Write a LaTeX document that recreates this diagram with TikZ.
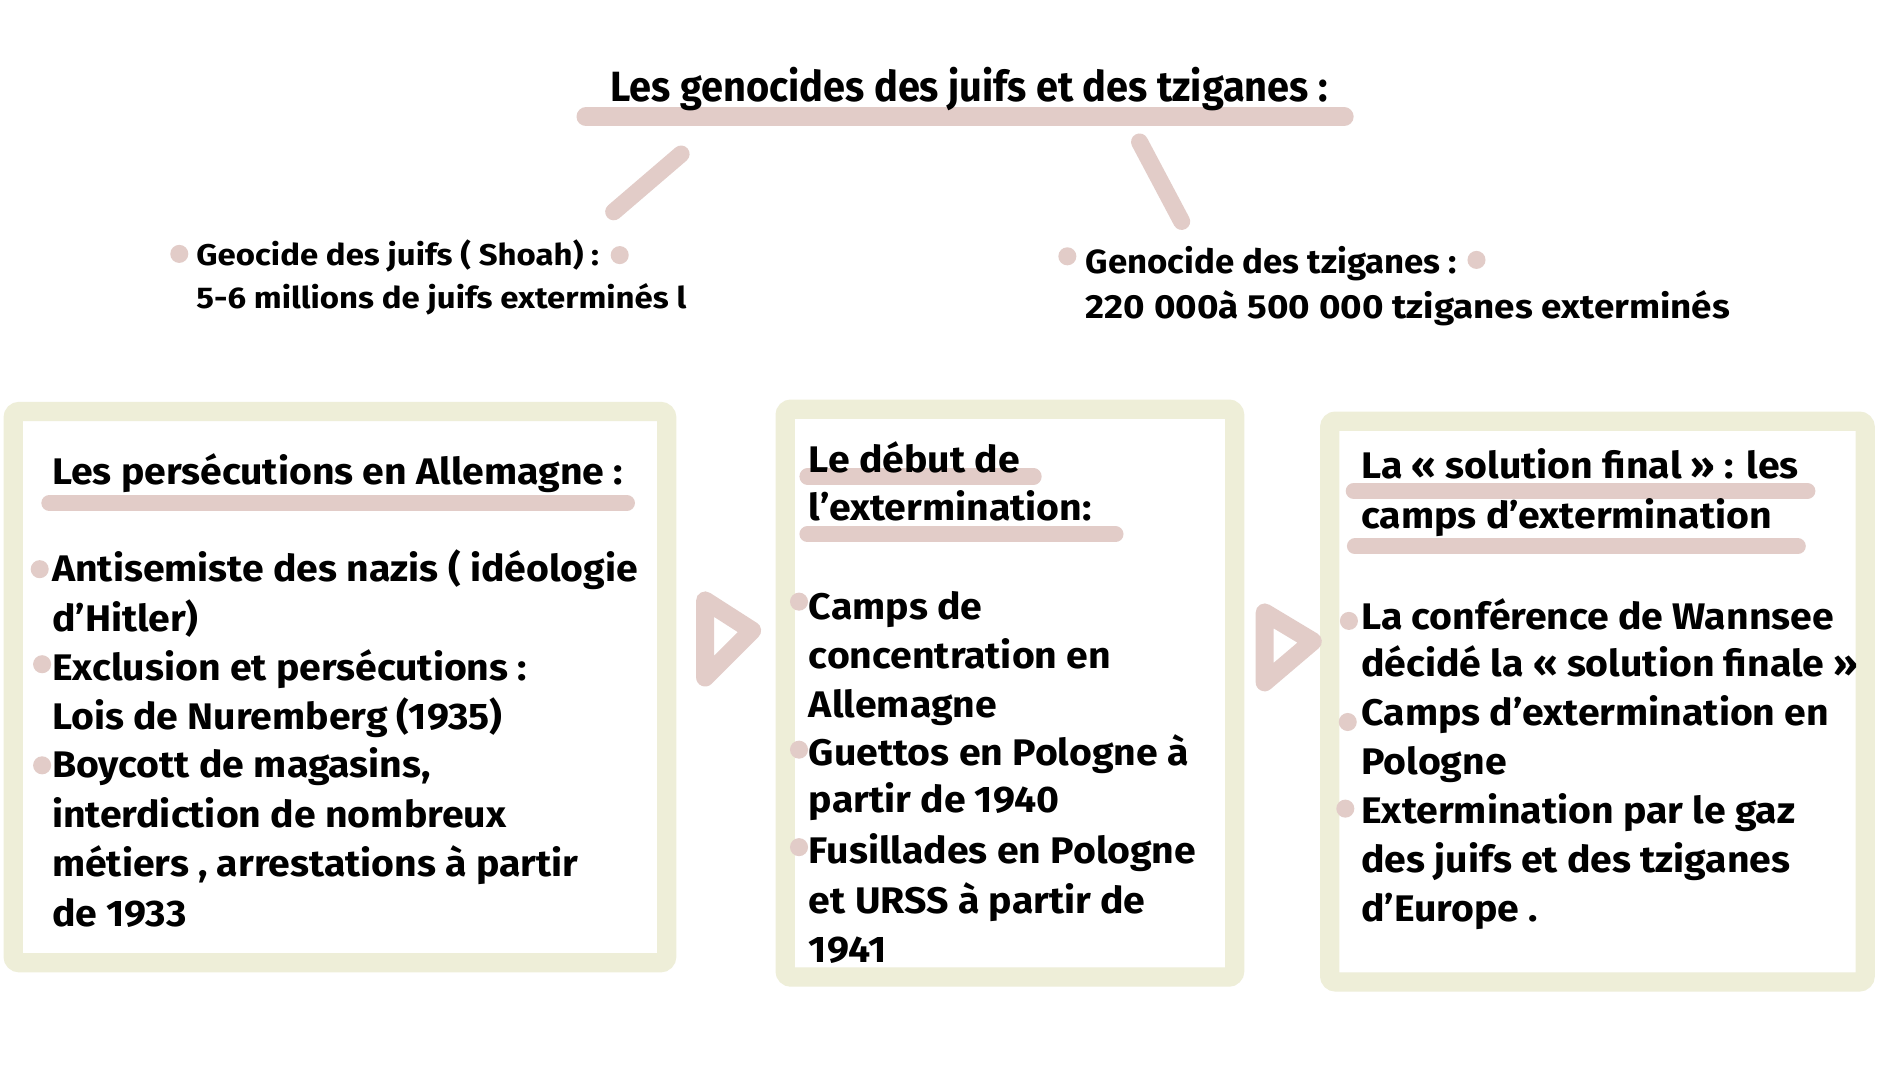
\documentclass[tikz,border=0pt]{standalone}
\usepackage{fontspec}
\setmainfont{Fira Sans}
\newfontfamily\hand{Fira Sans}[FakeStretch=1.06]
\newfontfamily\handlab{Fira Sans}[FakeStretch=1.10]
\newfontfamily\handlabb{Fira Sans}[FakeStretch=1.04]
\newfontfamily\handtitle{Fira Sans}[FakeStretch=0.94]
\definecolor{pinkc}{RGB}{226,204,200}
\definecolor{boxc}{RGB}{238,238,216}
\begin{document}
\begin{tikzpicture}[x=0.024cm,y=-0.024cm,
  bar/.style={draw=pinkc,line width=0.32cm,line cap=round},
  frame/.style={draw=boxc,line width=0.384cm,fill=white,rounded corners=0.12cm},
  dot/.style={circle,fill=pinkc,inner sep=0pt,minimum size=0.36cm},
  tri/.style={draw=pinkc,line width=0.36cm,line join=round},
  body/.style={anchor=base west,inner sep=0pt,font=\hand\bfseries\fontsize{21}{26}\selectfont},
  lab/.style={anchor=base west,inner sep=0pt,font=\handlab\bfseries\fontsize{17}{22}\selectfont},
  labr/.style={anchor=base west,inner sep=0pt,font=\handlab\bfseries\fontsize{19}{24}\selectfont},
  labrb/.style={anchor=base west,inner sep=0pt,font=\handlabb\bfseries\fontsize{19}{24}\selectfont},
  ttl/.style={anchor=base west,inner sep=0pt,font=\handtitle\bfseries\fontsize{24}{30}\selectfont}]
\useasboundingbox[fill=white] (0,0) rectangle (1564,897.5);

% title
\draw[bar,line width=0.38cm] (487,97) -- (1117,97);
\node[ttl] (title) at (507,84) {Les genocides des juifs et des tziganes :};
\coordinate (c1a) at (566,128); \coordinate (c1b) at (510,176);
\coordinate (c2a) at (947,118); \coordinate (c2b) at (982,184);
\draw[bar,line width=0.34cm] (c1a) -- (c1b);
\draw[bar,line width=0.34cm] (c2a) -- (c2b);

% labels
\node[dot] (dl1) at (149,211) {};
\node[lab] (gj1) at (163,221) {Geocide des juifs ( Shoah) :};
\node[dot] (dl2) at (515,212) {};
\node[lab] (gj2) at (163,256) {5-6 millions de juifs exterminés l};
\node[dot] (dr1) at (887,213) {};
\node[labrb] (gt1) at (902,227) {Genocide des tziganes :};
\node[dot] (dr2) at (1227,216) {};
\node[labr] (gt2) at (902,265) {220 000à 500 000 tziganes exterminés};

% boxes
\draw[frame] (11,342) rectangle (554,800);
\draw[frame] (652.5,340) rectangle (1026,812);
\draw[frame] (1105,350) rectangle (1550,816);

% arrows
\draw[tri] (586,499) -- (586,563) -- (625,524) -- cycle;
\draw[tri] (1051,509) -- (1051,567) -- (1091,533) -- cycle;

% left box
\draw[bar] (41,418) -- (521,418);
\node[body] (a0) at (43,403) {Les persécutions en Allemagne :};
\node[dot] (ad1) at (33,473) {};
\node[dot] (ad2) at (35,552) {};
\node[dot] (ad3) at (35,636) {};
\node[body] (a1) at (43,483) {Antisemiste des nazis ( idéologie};
\node[body] (a2) at (43,524.5) {d’Hitler)};
\node[body] (a3) at (43,565.5) {Exclusion et persécutions :};
\node[body] (a4) at (43,606.5) {Lois de Nuremberg (1935)};
\node[body] (a5) at (43,646) {Boycott de magasins,};
\node[body] (a6) at (43,688) {interdiction de nombreux};
\node[body] (a7) at (43,728) {métiers , arrestations à partir};
\node[body] (a8) at (43,770) {de 1933};

% middle box
\draw[bar] (671,396) -- (859,396);
\draw[bar] (671,444) -- (927,444);
\node[body] (b0) at (672,393) {Le début de};
\node[body] (b0b) at (672,432.5) {l’extermination:};
\node[dot] (bd1) at (664,500) {};
\node[dot] (bd2) at (664,623) {};
\node[dot] (bd3) at (664,704) {};
\node[body] (b1) at (672,514.5) {Camps de};
\node[body] (b2) at (672,555.5) {concentration en};
\node[body] (b3) at (672,596.5) {Allemagne};
\node[body] (b4) at (672,636) {Guettos en Pologne à};
\node[body] (b5) at (672,675.5) {partir de 1940};
\node[body] (b6) at (672,718) {Fusillades en Pologne};
\node[body] (b7) at (672,759) {et URSS à partir de};
\node[body] (b8) at (672,800) {1941};

% right box
\draw[bar] (1125,408) -- (1502,408);
\draw[bar] (1126,454) -- (1494,454);
\node[body] (c0) at (1131,398) {La « solution final » : les};
\node[body] (c0b) at (1131,439) {camps d’extermination};
\node[dot] (cd1) at (1121,516) {};
\node[dot] (cd2) at (1120,600) {};
\node[dot] (cd3) at (1118,672) {};
\node[body] (c1) at (1131,523) {La conférence de Wannsee};
\node[body] (c2) at (1131,562) {décidé la « solution finale »};
\node[body] (c3) at (1131,603) {Camps d’extermination en};
\node[body] (c4) at (1131,644) {Pologne};
\node[body] (c5) at (1131,684) {Extermination par le gaz};
\node[body] (c6) at (1131,725) {des juifs et des tziganes};
\node[body] (c7) at (1131,766) {d’Europe .};
\end{tikzpicture}
\end{document}
